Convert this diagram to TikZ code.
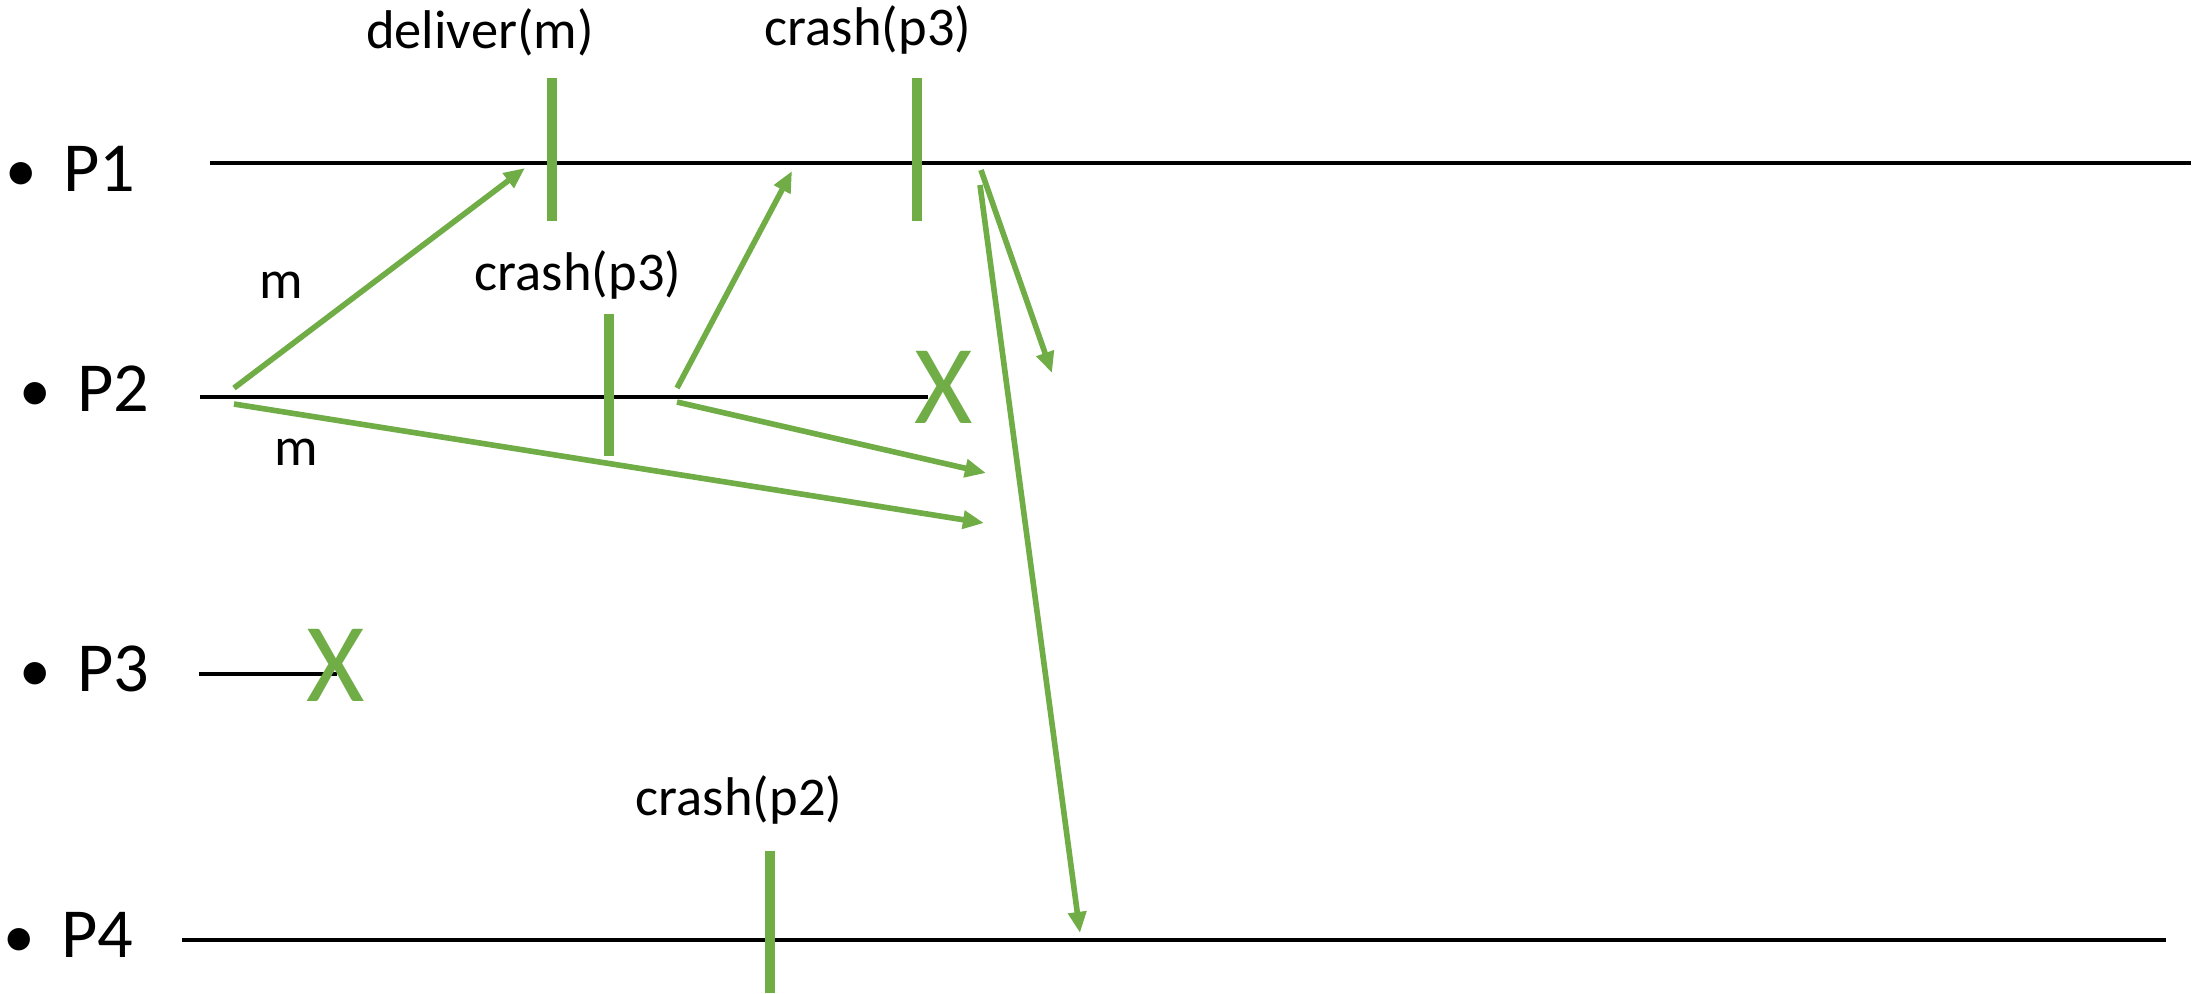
\documentclass[tikz,border=0pt]{standalone}
\usepackage{fontspec}
\setmainfont{Carlito}
\usetikzlibrary{arrows.meta}
\definecolor{evgreen}{HTML}{70AD47}
\newcommand{\pbullet}{{\fontsize{18}{18}\selectfont•}\hspace{7.5pt}}
\tikzset{
  timeline/.style={line width=1.1pt},
  event/.style={evgreen, line width=3pt},
  msg/.style={evgreen, line width=1.6pt, -{Triangle[length=6pt,width=5pt]}},
  proc/.style={anchor=base west, inner sep=0pt, font=\fontsize{20}{24}\selectfont},
  evlabel/.style={anchor=base, inner sep=0pt, font=\fontsize{15.5}{18}\selectfont},
  crashmark/.style={evgreen, inner sep=0pt, font=\fontsize{32}{36}\selectfont},
}
\begin{document}
\begin{tikzpicture}[x=0.01cm, y=-0.01cm]
  \useasboundingbox (0,0) rectangle (2198,993);

  % processes
  \node[proc] (p1) at (5,191) {\pbullet P1};
  \node[proc] (p2) at (19,411) {\pbullet P2};
  \node[proc] (p3) at (19,691) {\pbullet P3};
  \node[proc] (p4) at (3,957) {\pbullet P4};

  \draw[timeline] (210,163) -- (2191,163);
  \draw[timeline] (200,397) -- (928,397);
  \draw[timeline] (199,674) -- (337,674);
  \draw[timeline] (182,940) -- (2166,940);

  % crashes
  \node[crashmark] (x2) at (944,387) {X};
  \node[crashmark] (x3) at (336,665) {X};

  % events
  \draw[event] (552,78) -- (552,221);
  \draw[event] (917,78) -- (917,221);
  \draw[event] (609,314) -- (609,456);
  \draw[event] (770,851) -- (770,993);

  \node[evlabel] (deliver) at (480,48) {deliver(m)};
  \node[evlabel] (crashA) at (868,45) {crash(p3)};
  \node[evlabel] (crashB) at (578,290) {crash(p3)};
  \node[evlabel] (crashC) at (739,815) {crash(p2)};

  % messages
  \coordinate (m1s) at (234,388);  \coordinate (m1e) at (525,168);
  \coordinate (m2s) at (234,404);  \coordinate (m2e) at (984,523);
  \coordinate (c1s) at (677,388);  \coordinate (c1e) at (792,171);
  \coordinate (c2s) at (677,402);  \coordinate (c2e) at (986,473);
  \coordinate (c3s) at (981,170);  \coordinate (c3e) at (1052,373);
  \coordinate (c4s) at (980,185);  \coordinate (c4e) at (1080,933);

  \draw[msg] (m1s) -- (m1e);
  \draw[msg] (m2s) -- (m2e);
  \draw[msg] (c1s) -- (c1e);
  \draw[msg] (c2s) -- (c2e);
  \draw[msg] (c3s) -- (c3e);
  \draw[msg] (c4s) -- (c4e);

  \node[evlabel] (mup) at (281,298) {m};
  \node[evlabel] (mlow) at (296,465) {m};
\end{tikzpicture}
\end{document}
